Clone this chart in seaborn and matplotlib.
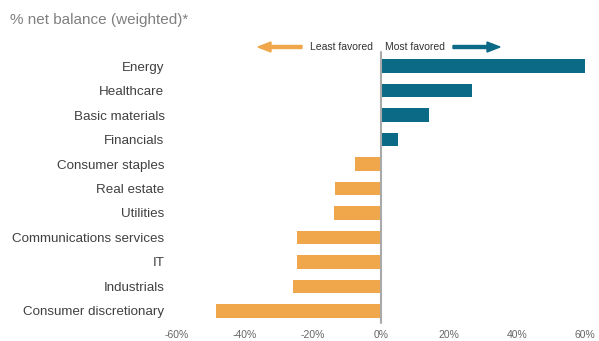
import matplotlib
matplotlib.use("Agg")
import matplotlib.pyplot as plt
import seaborn as sns
import pandas as pd

categories = ["Energy", "Healthcare", "Basic materials", "Financials", "Consumer staples",
              "Real estate", "Utilities", "Communications services", "IT", "Industrials",
              "Consumer discretionary"]
values = [60, 26.8, 14, 5, -7.6, -13.5, -13.8, -24.8, -24.8, -26, -48.6]
xticks = [-60, -40, -20, 0, 20, 40, 60]
xtick_labels = ["-60%", "-40%", "-20%", "0%", "20%", "40%", "60%"]

TEAL = "#0b6a86"
ORANGE = "#f0a74b"

sns.set_theme(style="white")
plt.rcParams['font.family'] = ['Liberation Sans', 'DejaVu Sans']

df = pd.DataFrame({"cat": categories, "val": values})
df["side"] = ["pos" if v >= 0 else "neg" for v in values]

fig = plt.figure(figsize=(5.99, 3.41), dpi=100)
ax = fig.add_axes([177/599, 1-322/341, 408/599, 267/341])
sns.barplot(data=df, x="val", y="cat", hue="side", palette={"pos": TEAL, "neg": ORANGE},
            dodge=False, legend=False, width=0.57, ax=ax, orient="h", saturation=1,
            linewidth=0)
for p in ax.patches:
    p.set_clip_on(False)

ax.set_xlim(-60, 60)
ax.set_ylim(10.45, -0.45)
ax.axvline(0, color="#a9a9a9", lw=1.5, ymin=-0.005, ymax=1.01, clip_on=False, zorder=3)
for s in ax.spines.values():
    s.set_visible(False)
ax.set_xlabel("")
ax.set_ylabel("")
ax.set_xticks(xticks)
ax.set_xticklabels(xtick_labels, fontsize=7.5, color="#666666")
ax.tick_params(axis="x", length=0, pad=6)
ax.tick_params(axis="y", length=0, pad=9, labelsize=9.6, labelcolor="#404040")

fig.text(10/599, 1-20/341, "% net balance (weighted)*", fontsize=11, color="#808080",
         va="center", ha="left")
fig.text(373/599, 1-47/341, "Least favored", fontsize=7.5, color="#333333", va="center", ha="right")
fig.text(385/599, 1-47/341, "Most favored", fontsize=7.5, color="#333333", va="center", ha="left")
fig.patches.append(matplotlib.patches.FancyArrow(302/599, 1-47/341, -44/599, 0,
                   width=3/341, head_width=10/341, head_length=13/599, length_includes_head=True,
                   color=ORANGE, transform=fig.transFigure, figure=fig))
fig.patches.append(matplotlib.patches.FancyArrow(453/599, 1-47/341, 47/599, 0,
                   width=3/341, head_width=10/341, head_length=13/599, length_includes_head=True,
                   color=TEAL, transform=fig.transFigure, figure=fig))

fig.savefig("out.png", dpi=100)
